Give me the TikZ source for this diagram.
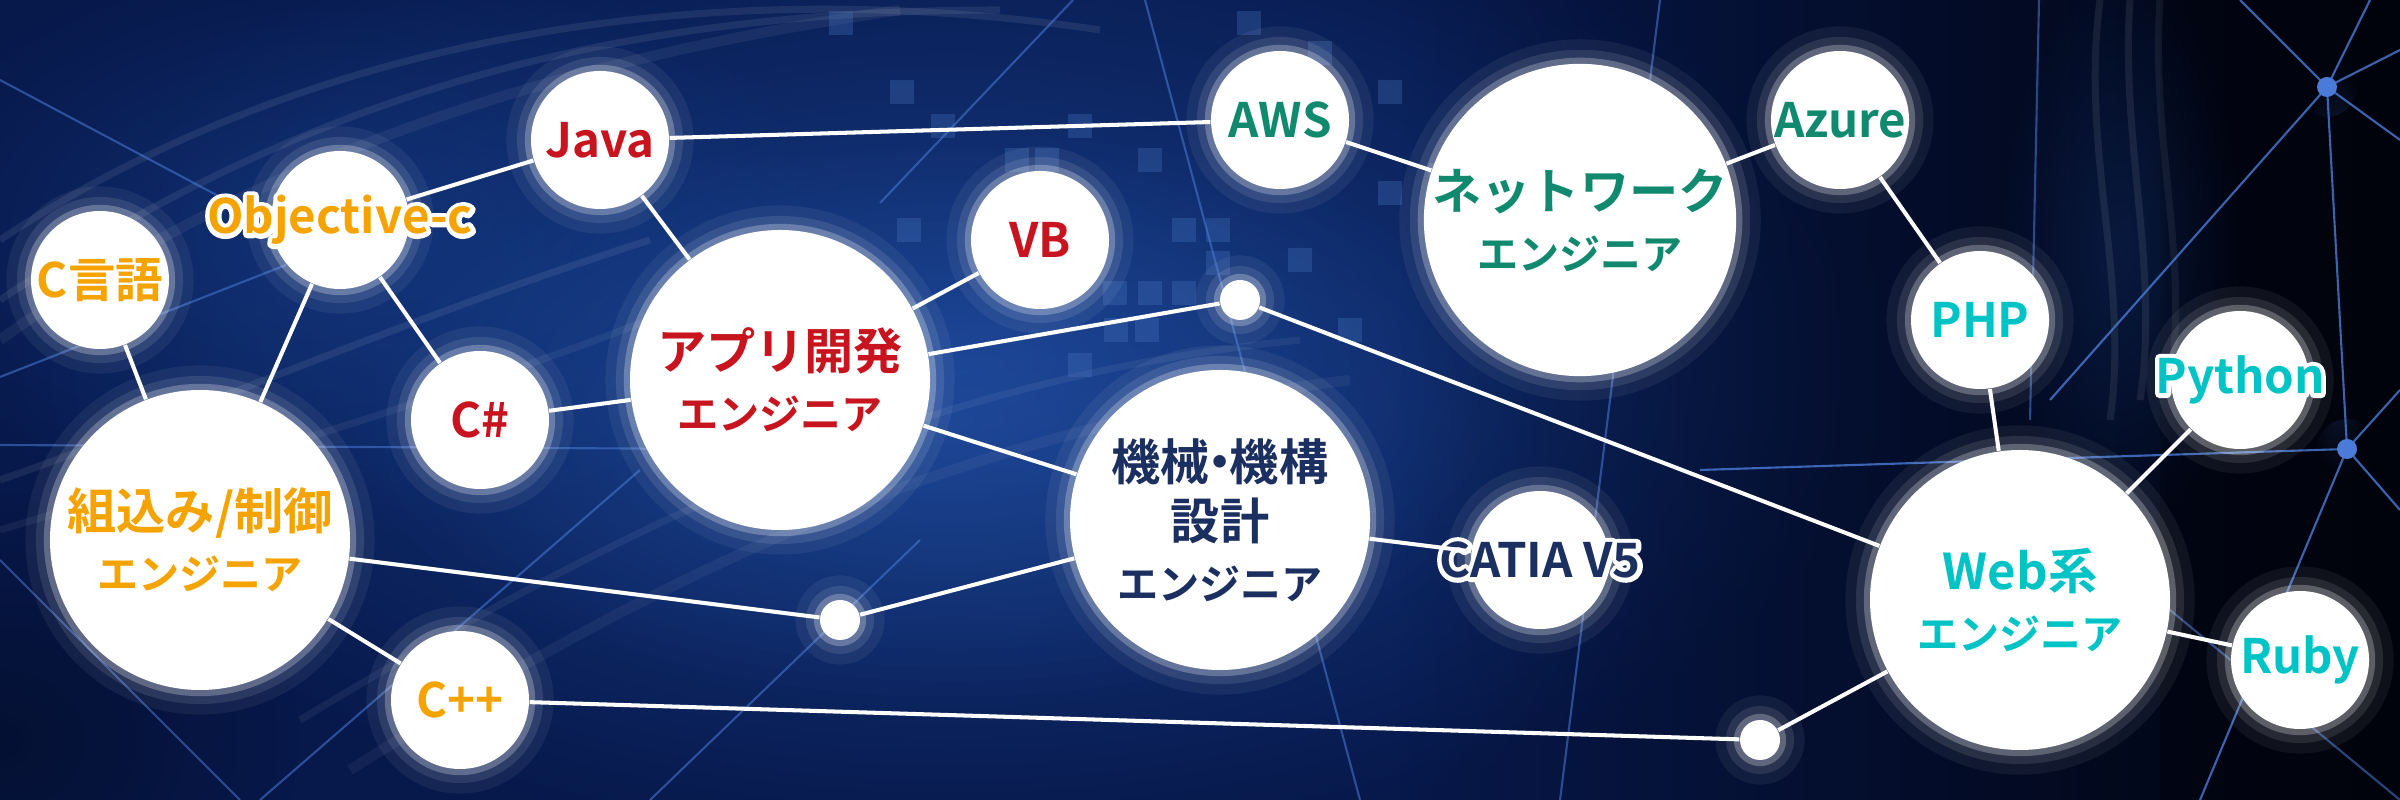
\documentclass[tikz,border=0pt]{standalone}
\usepackage{fontspec}
\setmainfont{Noto Sans CJK JP}[BoldFont={Noto Sans CJK JP Bold}]
\usetikzlibrary{fadings}

\definecolor{orangeC}{HTML}{F5A300}
\definecolor{redC}{HTML}{C8141E}
\definecolor{greenC}{HTML}{11896E}
\definecolor{cyanC}{HTML}{00C3C6}
\definecolor{navyC}{HTML}{1B2F60}
\definecolor{bgbase}{HTML}{07184A}
\definecolor{bgblue}{HTML}{1A4596}
\definecolor{bglight}{HTML}{2E62BE}
\definecolor{bgblack}{HTML}{01030C}
\definecolor{bgline}{HTML}{4A7BD8}
\definecolor{bgsquare}{HTML}{4A78C2}

\tikzfading[name=softglow, inner color=transparent!20, outer color=transparent!100]
\tikzfading[name=fadeleft, left color=transparent!100, right color=transparent!0]

% white outline behind a label that runs past its circle
\newcommand{\outlined}[1]{\makebox[0pt]{\special{pdf:literal direct 2 Tr 2.6 w 1 j}\textcolor{white}{#1}\special{pdf:literal direct 0 Tr 1 w}}\makebox[0pt]{#1}}

\begin{document}
\begin{tikzpicture}[
		halo/.style={preaction={draw=white, opacity=.06, line width=14pt},
			preaction={draw=white, opacity=.1, line width=8pt},
			preaction={draw=white, opacity=.25, line width=3.5pt}},
		small/.style={circle, fill=white, minimum size=1.38cm, inner sep=0pt, halo,
			font=\bfseries\fontsize{13.5}{16}\selectfont},
		big/.style={circle, fill=white, minimum size=3cm, inner sep=0pt, halo, align=center,
			font=\bfseries\fontsize{14}{17}\selectfont},
		joint/.style={circle, fill=white, minimum size=0.4cm, inner sep=0pt, halo},
		link/.style={white, line width=1.15pt},
		bgnet/.style={bgline, line width=.6pt, opacity=.55},
		streak/.style={white, line width=2pt, opacity=.08}
	]
	% background
	\useasboundingbox (0,0) rectangle (24,8);
	\fill[bgbase] (0,0) rectangle (24,8);
	\fill[bgblue, path fading=softglow] (9.5,4.4) ellipse (9.5 and 5);
	\fill[bgblue, path fading=softglow, opacity=.6] (3.5,5.6) ellipse (5 and 3);
	\fill[bglight, path fading=softglow, opacity=.45] (9.5,3.8) ellipse (6 and 3);
	\fill[bgblack, path fading=fadeleft] (14,0) rectangle (24,8);
	\fill[bgblack, opacity=.5] (21.6,0) rectangle (24,8);
	\fill[black, opacity=.4, path fading=softglow] (0,0.6) ellipse (3 and 2.5);
	\fill[bgblue, opacity=.35, path fading=softglow] (21.2,5.5) ellipse (1.2 and 3);

	\draw[streak] (0,5.6) .. controls (3,7.6) and (7,8.3) .. (11,7.7);
	\draw[streak] (0,5.0) .. controls (3,7.0) and (6,7.9) .. (10,7.9);
	\draw[streak, line width=3pt, opacity=.06] (0,4.6) .. controls (2.5,6.4) and (5.5,7.4) .. (9,7.9);
	\draw[streak] (0,3.2) .. controls (2,3.9) and (4,4.8) .. (6.5,5.6);
	\draw[streak, opacity=.06] (0,2.7) .. controls (2,3.3) and (4.5,4.0) .. (7,5.0);
	\draw[streak, opacity=.06] (3,0.8) .. controls (6,2.6) and (9,4.2) .. (13,4.6);
	\draw[streak, opacity=.05, line width=3pt] (3.5,0.3) .. controls (6.5,2.2) and (9.5,3.7) .. (13.5,4.2);
	\draw[streak] (21.0,8) .. controls (20.8,6.5) and (21.3,5.2) .. (21.1,3.8);
	\draw[streak] (21.3,8) .. controls (21.2,6.6) and (21.6,5.3) .. (21.4,4.0);
	\draw[streak, opacity=.06] (21.6,8) .. controls (21.5,6.6) and (21.9,5.4) .. (21.7,4.2);

	\draw[bgnet] (0,7.2) -- (3.2,5.5) (0,3.55) -- (9,3.5) (0,2.4) -- (2.4,0) (2.6,0) -- (6.4,3.3)
		(0,4.23) -- (2.86,5.35) (8.8,5.97) -- (10.73,8) (11.45,8) -- (13.6,0) (16.6,8) -- (15.6,0)
		(20.39,8) -- (20.3,3.8) (21.7,1.9) -- (24,0) (6.5,0) -- (9.2,2.6);
	\coordinate (hubA) at (23.27,7.13);
	\coordinate (hubB) at (23.47,3.51);
	\draw[bgnet, opacity=.8] (hubA) -- (22.4,8) (hubA) -- (23.7,8) (hubA) -- (24,7.5) (hubA) -- (24,6.6)
		(hubA) -- (hubB) (hubA) -- (20.5,4.0) (hubB) -- (17.0,3.3) (hubB) -- (22.0,0)
		(hubB) -- (24,2.9) (hubB) -- (24,4.1);
	\fill[bgline] (hubA) circle (0.1) (hubB) circle (0.1);
	\fill[bgline, opacity=.5, path fading=softglow] (hubA) circle (0.3) (hubB) circle (0.3);

	\foreach \x/\y in {8.41/7.77, 9.02/7.08, 9.09/5.70, 9.43/6.74, 10.17/6.40, 10.47/6.40, 10.80/6.74,
		11.15/5.07, 11.50/6.40, 11.50/5.07, 11.84/5.70, 12.18/5.70, 12.18/5.37, 11.84/5.07, 12.49/7.77,
		13.20/7.47, 13.90/7.08, 13.90/6.07, 14.41/6.25, 11.16/4.70, 11.47/4.70, 10.80/4.35, 9.90/5.40,
		13.00/5.40, 13.50/4.70, 14.80/5.70, 15.40/6.80, 16.0/5.0}
		\fill[bgsquare, opacity=.3] (\x-0.12,\y-0.12) rectangle ++(0.24,0.24);

	% nodes
	\node[small, text=orangeC] (cgo) at (1.0,5.2) {C言語};
	\node[small, text=orangeC] (objc) at (3.4,5.8) {\outlined{Objective-c}};
	\node[small, text=redC] (java) at (6.0,6.6) {Java};
	\node[big, text=orangeC] (kumi) at (2.0,2.6) {組込み/制御\\{\fontsize{11.7}{14}\selectfont エンジニア}};
	\node[small, text=redC] (csharp) at (4.8,3.8) {C\#};
	\node[small, text=orangeC] (cpp) at (4.6,1.0) {C++};
	\node[big, text=redC] (app) at (7.8,4.2) {アプリ開発\\{\fontsize{11.7}{14}\selectfont エンジニア}};
	\node[small, text=redC] (vb) at (10.4,5.6) {VB};
	\node[small, text=greenC] (aws) at (12.8,6.8) {AWS};
	\node[joint] (jA) at (12.4,5.0) {};
	\node[big, text=navyC] (kikai) at (12.2,2.8) {機械\kern-.3em・\kern-.3em機構\\設計\\{\fontsize{11.7}{14}\selectfont エンジニア}};
	\node[joint] (jB) at (8.4,1.8) {};
	\node[small, text=navyC] (catia) at (15.4,2.4) {\outlined{CATIA V5}};
	\node[big, text=greenC] (network) at (15.8,5.8) {ネットワーク\\{\fontsize{11.7}{14}\selectfont エンジニア}};
	\node[small, text=greenC] (azure) at (18.4,6.8) {Azure};
	\node[small, text=cyanC] (php) at (19.8,4.8) {PHP};
	\node[small, text=cyanC] (python) at (22.4,4.2) {\outlined{Python}};
	\node[big, text=cyanC] (web) at (20.2,2.0) {Web系\\{\fontsize{11.7}{14}\selectfont エンジニア}};
	\node[small, text=cyanC] (ruby) at (23.0,1.4) {Ruby};
	\node[joint] (jC) at (17.6,0.6) {};

	% connectors
	\foreach \a/\b in {cgo/kumi, objc/kumi, objc/java, objc/csharp, java/app, java/aws, csharp/app,
		app/vb, app/jA, jA/web, app/kikai, kumi/jB, jB/kikai, kumi/cpp, cpp/jC, jC/web, kikai/catia,
		aws/network, network/azure, azure/php, php/web, web/python, web/ruby}
		\draw[link] (\a) -- (\b);
\end{tikzpicture}
\end{document}
